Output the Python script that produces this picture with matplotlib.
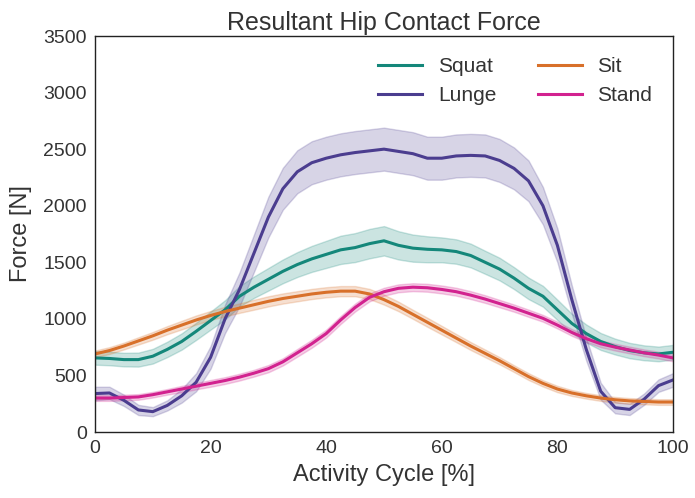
import numpy as np
import matplotlib.pyplot as plt

# Activity cycle sample points [%]
cycle = np.arange(0, 100.1, 2.5)

# Mean resultant hip contact force [N] per activity
squat = [655, 650, 640, 640, 670, 730, 800, 890, 985, 1080, 1200, 1280, 1350,
         1420, 1480, 1530, 1570, 1610, 1630, 1665, 1690, 1650, 1625, 1615, 1610,
         1595, 1560, 1500, 1440, 1360, 1270, 1200, 1080, 960, 870, 800, 755, 720,
         700, 690, 705]
lunge = [340, 345, 280, 195, 180, 235, 320, 440, 660, 1000, 1260, 1580, 1900,
         2150, 2300, 2380, 2420, 2450, 2470, 2485, 2500, 2480, 2460, 2420, 2420,
         2440, 2445, 2440, 2400, 2330, 2220, 2000, 1650, 1170, 730, 360, 215, 200,
         290, 410, 460]
sit = [690, 720, 760, 805, 850, 900, 945, 990, 1030, 1065, 1095, 1125, 1155,
       1180, 1200, 1220, 1235, 1245, 1245, 1220, 1170, 1110, 1040, 970, 900, 830,
       760, 695, 630, 560, 490, 430, 380, 345, 320, 300, 285, 275, 270, 265, 265]
stand = [300, 300, 305, 310, 330, 355, 380, 405, 430, 455, 485, 520, 560, 620,
         700, 780, 870, 990, 1100, 1190, 1240, 1270, 1280, 1275, 1260, 1240, 1210,
         1175, 1135, 1095, 1050, 1005, 945, 880, 825, 780, 750, 725, 700, 680, 655]

# Half-width of the shaded spread around each mean [N]
squat_sd = [60, 60, 60, 62, 65, 68, 72, 76, 80, 85, 90, 95, 100, 105, 110, 115,
            120, 125, 128, 130, 130, 125, 120, 115, 110, 108, 105, 102, 100, 97,
            95, 92, 90, 85, 80, 75, 70, 68, 66, 65, 65]
lunge_sd = [60, 55, 50, 45, 40, 45, 60, 80, 100, 125, 150, 165, 180, 185, 190,
            190, 190, 190, 190, 190, 190, 190, 190, 190, 190, 190, 190, 190, 190,
            185, 180, 165, 150, 125, 100, 75, 50, 50, 50, 55, 60]
sit_sd = [30, 30, 30, 32, 34, 36, 38, 40, 40, 42, 42, 44, 45, 45, 45, 45, 45,
          45, 45, 45, 44, 42, 40, 40, 38, 36, 35, 34, 32, 30, 30, 28, 28, 26, 25,
          25, 25, 25, 25, 25, 25]
stand_sd = [25, 25, 25, 25, 25, 25, 28, 28, 30, 30, 30, 30, 32, 32, 34, 35, 35,
            35, 35, 35, 35, 35, 35, 35, 35, 35, 35, 34, 33, 32, 32, 30, 30, 30,
            30, 30, 30, 30, 30, 30, 30]

labels = ["Squat", "Lunge", "Sit", "Stand"]
colors = ["#14877a", "#4b3d8f", "#d8702a", "#d2228f"]

plt.rcParams["font.family"] = ["Liberation Sans", "DejaVu Sans"]

fig = plt.figure(figsize=(6.95, 4.98), dpi=100)
ax = fig.add_axes([0.1367, 0.1325, 0.8316, 0.7952])

for mean, sd, label, color in zip([squat, lunge, sit, stand],
                                  [squat_sd, lunge_sd, sit_sd, stand_sd],
                                  labels, colors):
    mean = np.asarray(mean, dtype=float)
    sd = np.asarray(sd, dtype=float)
    ax.fill_between(cycle, mean - sd, mean + sd, color=color, alpha=0.22,
                    linewidth=1)
    ax.plot(cycle, mean, color=color, lw=2.2, label=label)

ax.set_xlim(0, 100)
ax.set_ylim(0, 3500)
ax.set_xticks(range(0, 101, 20))
ax.set_yticks(range(0, 3501, 500))
ax.tick_params(length=0, labelsize=14, labelcolor="#333333", pad=6)
for spine in ax.spines.values():
    spine.set_color("#222222")
    spine.set_linewidth(1.0)

ax.set_title("Resultant Hip Contact Force", fontsize=18, color="#333333", pad=4)
ax.set_xlabel("Activity Cycle [%]", fontsize=17, color="#333333", labelpad=5)
ax.set_ylabel("Force [N]", fontsize=17, color="#333333", labelpad=8)

ax.legend(ncol=2, loc="upper right", frameon=False, fontsize=15,
          handlelength=2.1, handletextpad=0.75, columnspacing=2.0,
          labelspacing=0.5, borderaxespad=0.6, labelcolor="#333333")

fig.savefig("out.png", dpi=100)
